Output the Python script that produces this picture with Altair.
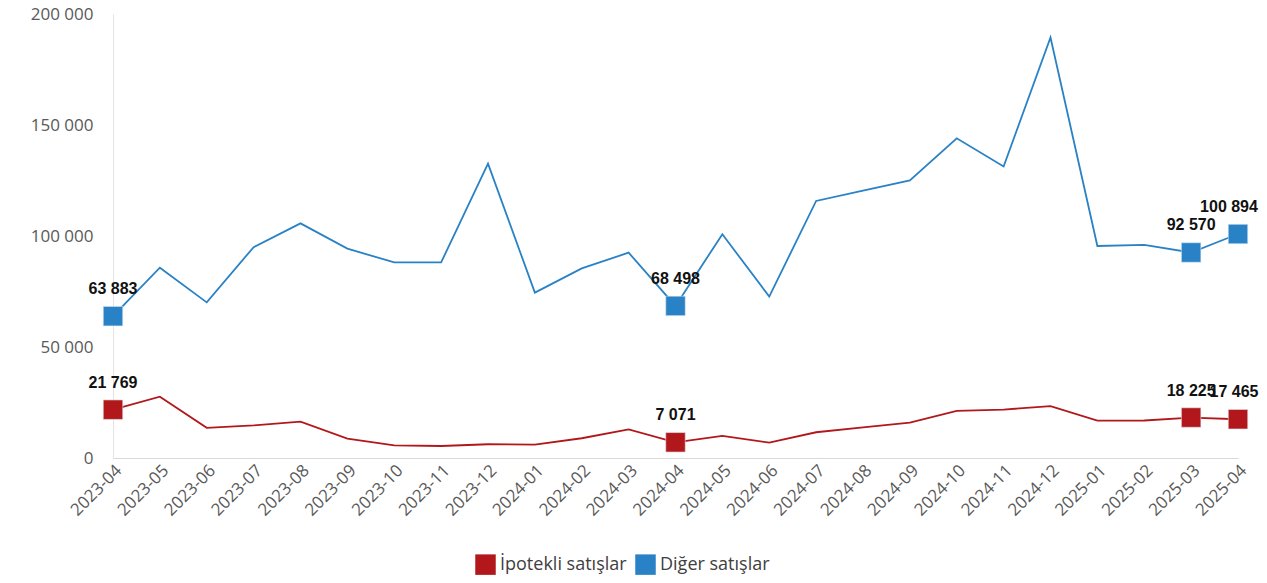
import altair as alt
import pandas as pd

months = ["2023-04","2023-05","2023-06","2023-07","2023-08","2023-09","2023-10","2023-11",
          "2023-12","2024-01","2024-02","2024-03","2024-04","2024-05","2024-06","2024-07",
          "2024-08","2024-09","2024-10","2024-11","2024-12","2025-01","2025-02","2025-03","2025-04"]
ipotekli = [21769, 27600, 13600, 14700, 16400, 8700, 5700, 5400,
            6200, 6000, 8900, 12900, 7071, 10000, 6900, 11600,
            13800, 15900, 21200, 21800, 23400, 16800, 16900, 18225, 17465]
diger = [63883, 85700, 70100, 95000, 105700, 94300, 88100, 88100,
         132600, 74500, 85400, 92500, 68498, 100800, 72700, 115800,
         120400, 125000, 144000, 131300, 189400, 95500, 96000, 92570, 100894]
series_names = ["İpotekli satışlar", "Diğer satışlar"]
colors = ["#b2181b", "#2a82c6"]
marked = ["2023-04", "2024-04", "2025-03", "2025-04"]

rows = []
for name, vals in zip(series_names, [ipotekli, diger]):
    for m, v in zip(months, vals):
        rows.append({"month": m, "value": v, "series": name,
                     "label": f"{v:,}".replace(",", " "),
                     "marked": m in marked})
df = pd.DataFrame(rows)

x = alt.X("month:N", sort=months, title=None,
          scale=alt.Scale(type="point", padding=0),
          axis=alt.Axis(labelAngle=-45, labelFontSize=17, labelColor="#595959",
                        labelFont="Open Sans", ticks=False, domainColor="#d9d9d9",
                        labelPadding=4, grid=False, labelOverlap=False))
y = alt.Y("value:Q", title=None,
          scale=alt.Scale(domain=[0, 200000], nice=False),
          axis=alt.Axis(values=[0, 50000, 100000, 150000, 200000], labelExpr="replace(format(datum.value, ','), ',', ' ')",
                        labelFontSize=17, labelColor="#595959", labelFont="Open Sans",
                        ticks=False, domainColor="#e3e3e3", grid=False, labelPadding=20))
color = alt.Color("series:N", scale=alt.Scale(domain=series_names, range=colors),
                  legend=alt.Legend(title=None, orient="none", legendX=362, legendY=540,
                                    direction="horizontal", symbolType="square", symbolSize=420,
                                    labelFontSize=18, labelColor="#404040", labelFont="Open Sans",
                                    columnPadding=8, symbolStrokeWidth=0, symbolOpacity=1))

base = alt.Chart(df)
lines = base.mark_line(strokeWidth=1.8).encode(x=x, y=y, color=color, detail="series:N")
pts = base.transform_filter("datum.marked").mark_square(size=380, opacity=1, stroke="#dfe8f0", strokeWidth=0.6).encode(x=x, y=y, color=color)
txt = base.transform_filter("datum.marked && datum.month != '2025-04'").mark_text(
    dy=-27, fontSize=16, fontWeight="bold", font="Liberation Sans", color="#111111"
).encode(x=x, y=y, text="label:N")
txt_last_red = base.transform_filter("datum.month == '2025-04' && datum.series == 'İpotekli satışlar'").mark_text(
    dy=-27, dx=-4, fontSize=16, fontWeight="bold", font="Liberation Sans", color="#111111"
).encode(x=x, y=y, text="label:N")
txt_last_blue = base.transform_filter("datum.month == '2025-04' && datum.series == 'Diğer satışlar'").mark_text(
    dy=-27, dx=-9, fontSize=16, fontWeight="bold", font="Liberation Sans", color="#111111"
).encode(x=x, y=y, text="label:N")

chart = alt.layer(lines, pts, txt, txt_last_red, txt_last_blue).properties(
    width=1125, height=444,
    autosize=alt.AutoSizeParams(type="none"),
    padding={"left": 105, "top": 6, "right": 21, "bottom": 117},
).configure_view(stroke=None)

chart.save("out.html", embed_options={"renderer": "svg", "actions": False})
